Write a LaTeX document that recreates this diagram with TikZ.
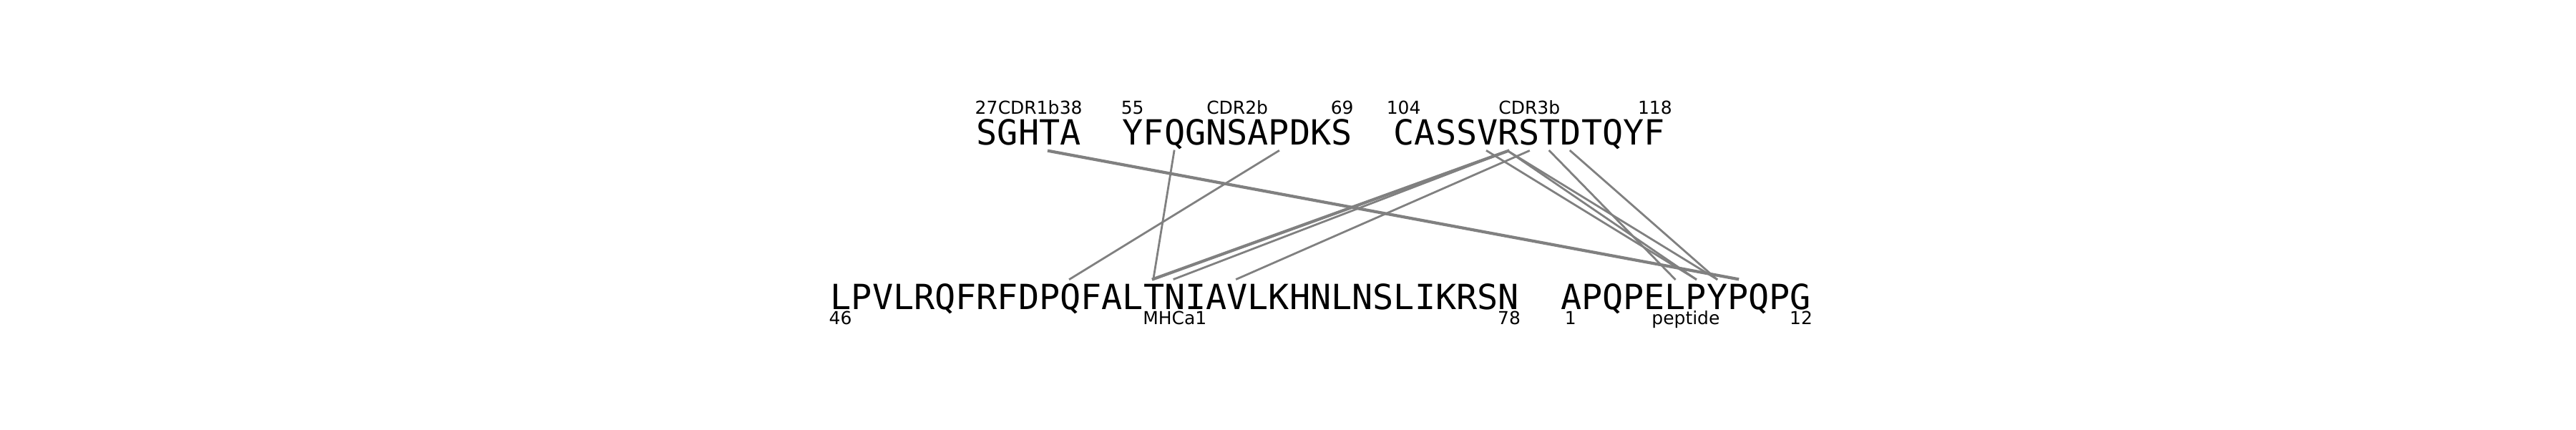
\documentclass[tikz,border=0pt]{standalone}
\usepackage{fontspec}
\usepackage{tikz}
\setmainfont{DejaVu Sans}
\setmonofont{DejaVu Sans Mono}
\usetikzlibrary{positioning}
\usetikzlibrary{calc}

\newcommand{\adv}{0.2915}
\newcommand{\halfadv}{1.4575mm}

\begin{document}
\begin{tikzpicture}[
        seq/.style={inner sep=0pt,anchor=base west,font=\ttfamily\fontsize{13.78pt}{16pt}\selectfont},
        lab/.style={inner sep=0pt,anchor=base,font=\fontsize{7.1pt}{8pt}\selectfont},
        contact/.style={draw=gray,line width=0.8pt,line cap=rect},
        strong/.style={contact,line width=1.2pt}]
        \useasboundingbox (0,0) rectangle (36,6);

        \node[seq] (cdr1) at (13.64,3.98) {SGHTA};
        \node[seq] (cdr2) at (13.64+7*\adv,3.98) {YFQGNSAPDKS};
        \node[seq] (cdr3) at (13.64+20*\adv,3.98) {CASSVRSTDTQYF};
        \node[seq] (mhc) at (11.60,1.68) {LPVLRQFRFDPQFALTNIAVLKHNLNSLIKRSN};
        \node[seq] (pep) at (11.60+35*\adv,1.68) {APQPELPYPQPG};

        \foreach \seg/\first/\name/\last/\dy in {cdr1/27/CDR1b/38/4.3mm,cdr2/55/CDR2b/69/4.3mm,cdr3/104/CDR3b/118/4.3mm,mhc/46/MHCa1/78/-2.1mm,pep/1/peptide/12/-2.1mm}{
            \node[lab] (\seg-first) at ([xshift=\halfadv,yshift=\dy]\seg.base west) {\first};
            \node[lab] (\seg-name) at ([yshift=\dy]\seg.base) {\name};
            \node[lab] (\seg-last) at ([xshift=-\halfadv,yshift=\dy]\seg.base east) {\last};
        }

        \foreach \i in {0,...,32}
            \coordinate (t\i) at (13.64+\i*\adv+\adv/2,3.89);
        \foreach \i in {0,...,46}
            \coordinate (b\i) at (11.60+\i*\adv+\adv/2,2.10);

        \foreach \a/\b in {9/15,14/11,25/16,26/19,24/41,25/41,25/42,27/40,28/42}
            \draw[contact] (t\a) -- (b\b);
        \foreach \a/\b in {3/43,25/15}
            \draw[strong] (t\a) -- (b\b);
    \end{tikzpicture}
\end{document}
